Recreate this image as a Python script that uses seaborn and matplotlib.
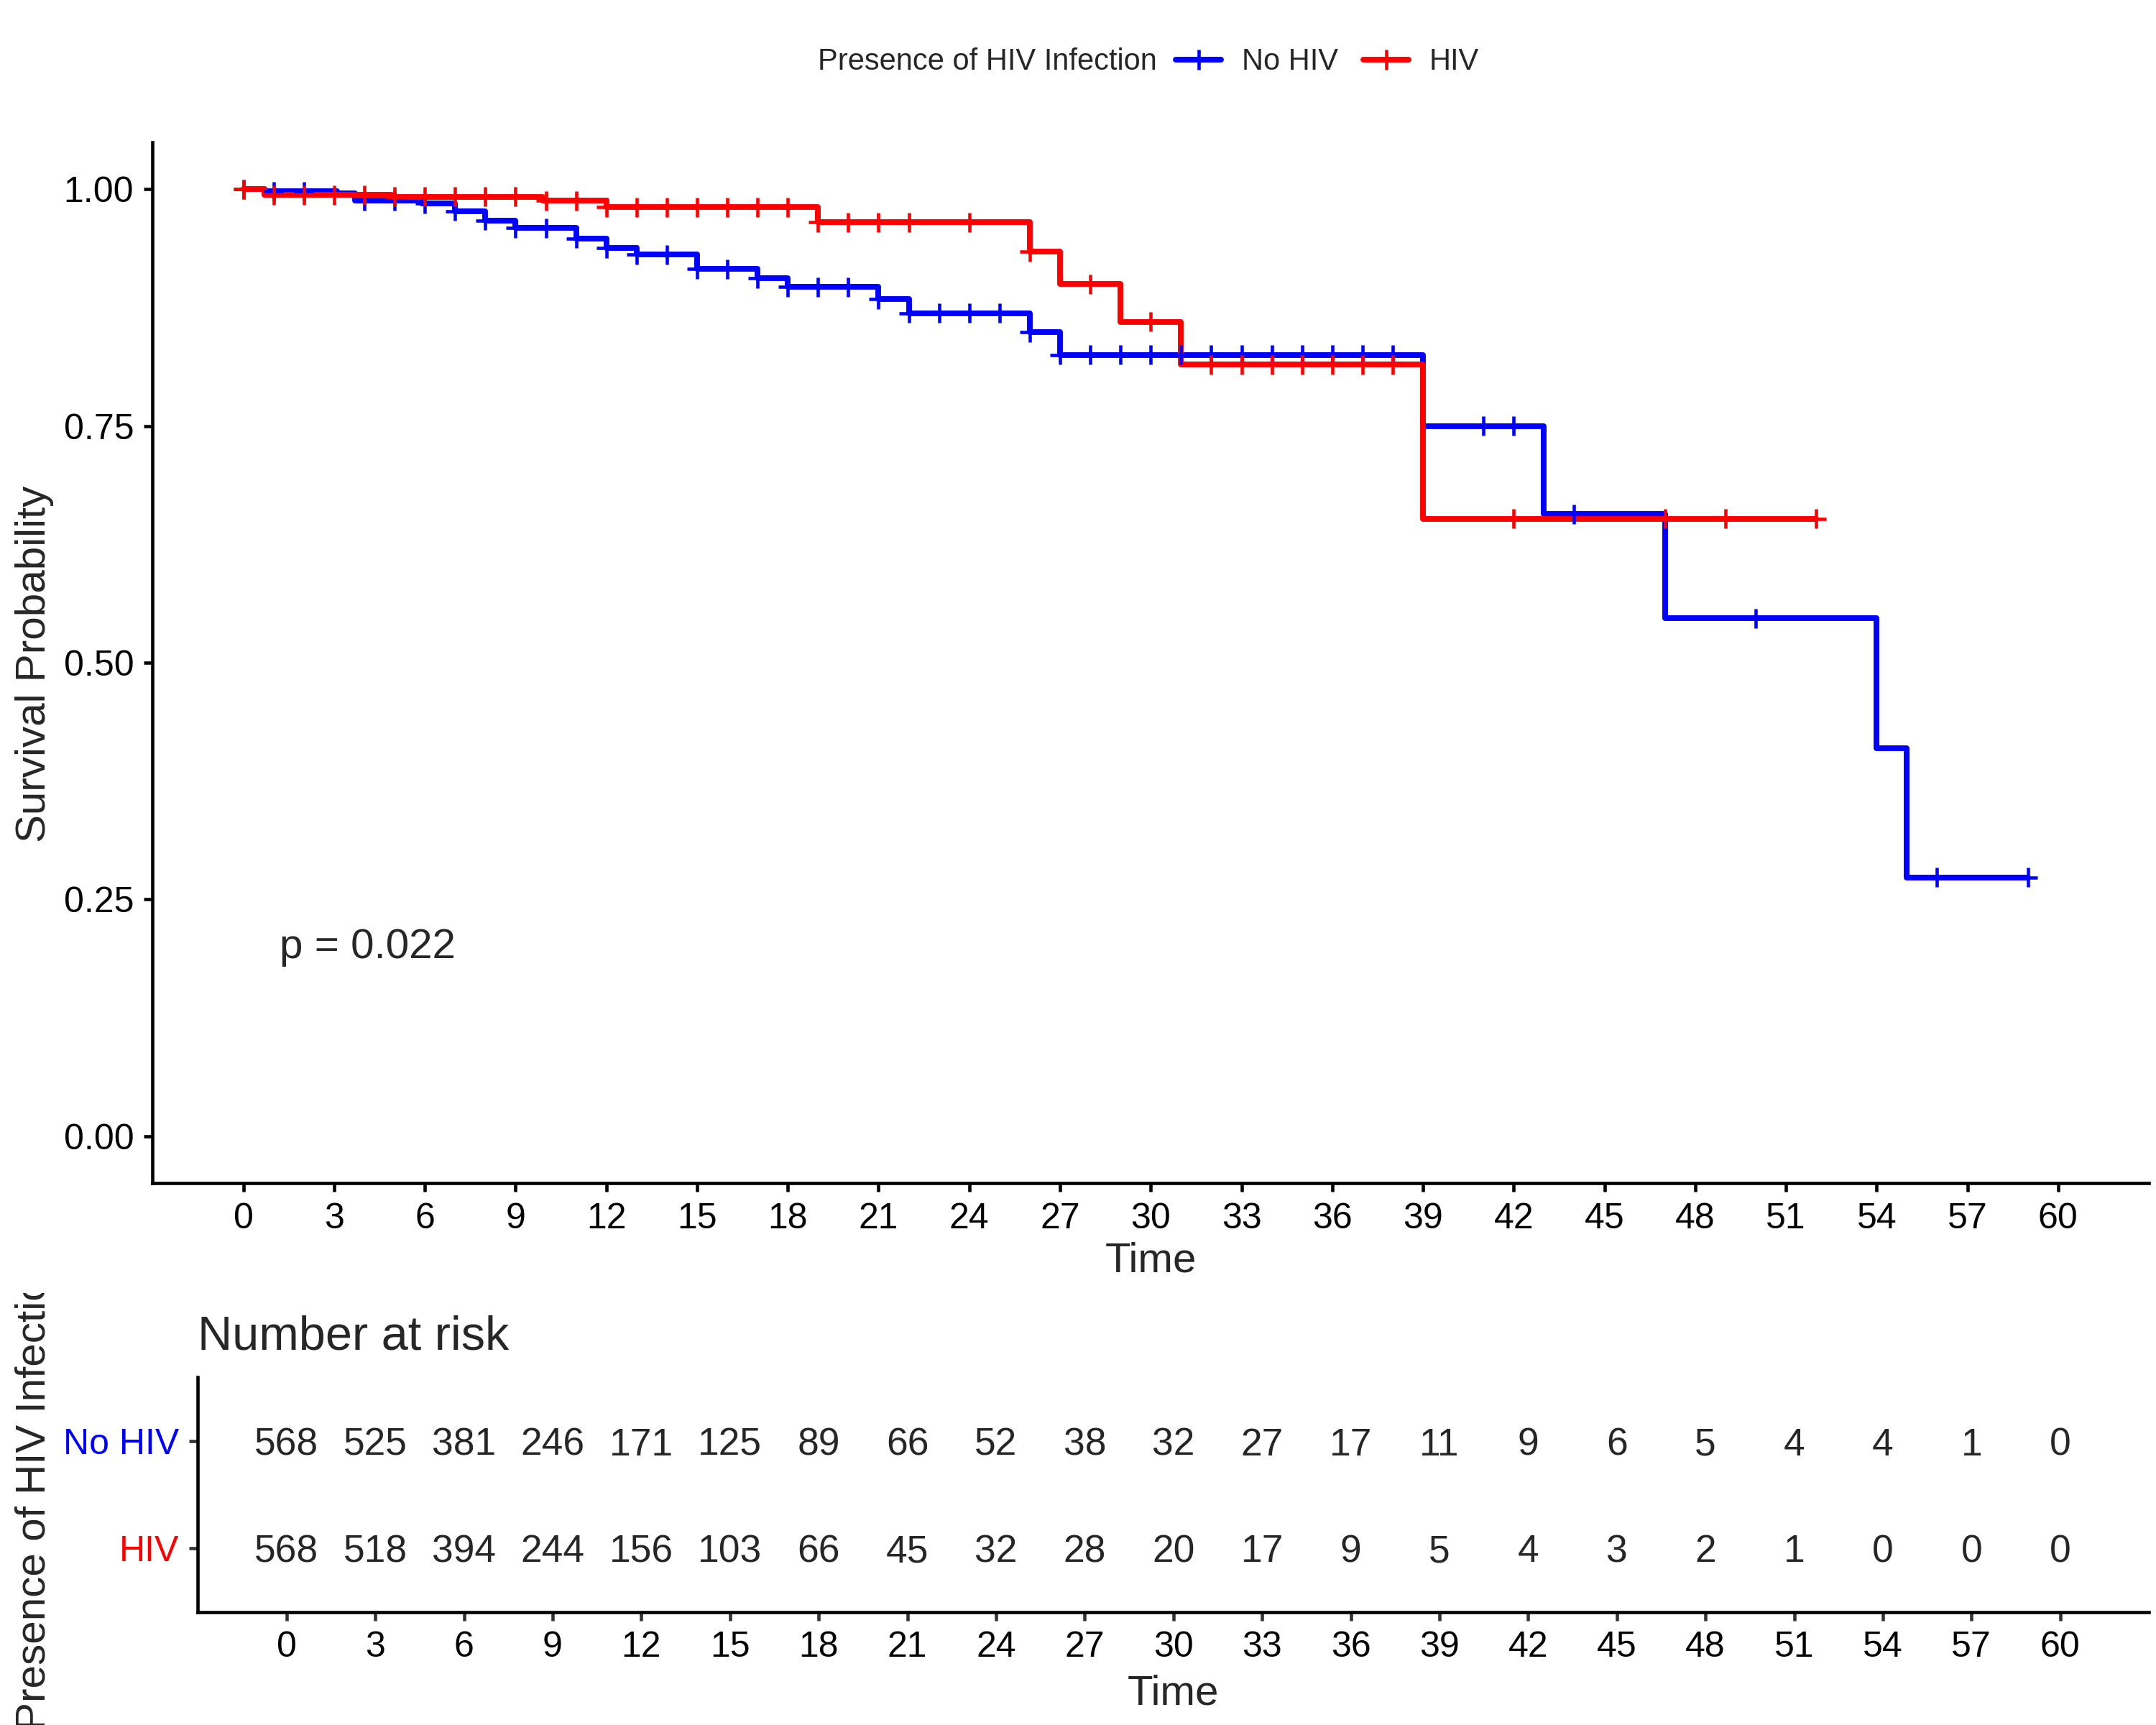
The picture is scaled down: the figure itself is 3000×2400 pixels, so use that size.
import numpy as np
import pandas as pd
import seaborn as sns
import matplotlib.pyplot as plt
from matplotlib.lines import Line2D
from matplotlib.transforms import Bbox, TransformedBbox

# === Data ===
groups = ["No HIV", "HIV"]
colors = {"No HIV": "#0000FF", "HIV": "#FF0000"}

# Kaplan-Meier steps: event times and survival after each step
nohiv_times = [0, 0.7, 3.1, 3.7, 5.9, 7, 8, 9, 11, 12, 13, 15, 17, 18, 21, 22, 26, 27, 39, 43, 47, 54, 55, 59]
nohiv_surv = [1.000, 0.998, 0.996, 0.988, 0.985, 0.977, 0.967, 0.959, 0.948, 0.938, 0.931, 0.916, 0.906,
              0.897, 0.884, 0.869, 0.849, 0.825, 0.750, 0.657, 0.547, 0.410, 0.273, 0.273]
hiv_times = [0, 0.7, 4.9, 9.9, 12, 19, 26, 27, 29, 31, 39, 52]
hiv_surv = [1.000, 0.994, 0.992, 0.988, 0.981, 0.965, 0.934, 0.900, 0.860, 0.815, 0.652, 0.652]

# censoring times
nohiv_cens = [0, 1, 2] + list(range(4, 39)) + [41, 42, 44, 50, 56, 59]
hiv_cens = list(range(0, 23)) + [24, 26, 28, 30] + list(range(32, 39)) + [42, 47, 49, 52]

# number at risk table
risk_times = list(range(0, 61, 3))
risk_nohiv = [568, 525, 381, 246, 171, 125, 89, 66, 52, 38, 32, 27, 17, 11, 9, 6, 5, 4, 4, 1, 0]
risk_hiv = [568, 518, 394, 244, 156, 103, 66, 45, 32, 28, 20, 17, 9, 5, 4, 3, 2, 1, 0, 0, 0]

p_label = "p = 0.022"

# === Build frames ===
steps = pd.concat([
    pd.DataFrame({"time": nohiv_times, "surv": nohiv_surv, "group": "No HIV"}),
    pd.DataFrame({"time": hiv_times, "surv": hiv_surv, "group": "HIV"}),
], ignore_index=True)


def surv_at(times, surv, t):
    idx = np.searchsorted(times, t, side="right") - 1
    return surv[idx]


cens = pd.concat([
    pd.DataFrame({"time": nohiv_cens,
                  "surv": [surv_at(nohiv_times, nohiv_surv, c) for c in nohiv_cens],
                  "group": "No HIV"}),
    pd.DataFrame({"time": hiv_cens,
                  "surv": [surv_at(hiv_times, hiv_surv, c) for c in hiv_cens],
                  "group": "HIV"}),
], ignore_index=True)

# === Style ===
sns.set_theme(style="ticks")
plt.rcParams["font.family"] = ["Liberation Sans", "DejaVu Sans"]

fig = plt.figure(figsize=(10, 8), dpi=300)
ax = fig.add_axes([0.0708, 0.314, 0.9259, 0.6037])
axt = fig.add_axes([0.0918, 0.0654, 0.9049, 0.1363])

# === Survival curves ===
sns.lineplot(data=steps, x="time", y="surv", hue="group", hue_order=groups, palette=colors,
             drawstyle="steps-post", linewidth=1.9, errorbar=None, legend=False, ax=ax)
sns.scatterplot(data=cens, x="time", y="surv", hue="group", hue_order=groups, palette=colors,
                marker="+", s=42, linewidth=1.1, legend=False, ax=ax, zorder=3)

ax.set_xlim(-3, 63)
ax.set_ylim(-0.05, 1.05)
ax.set_xticks(range(0, 61, 3))
ax.set_yticks([0, 0.25, 0.5, 0.75, 1.0])
ax.set_yticklabels(["0.00", "0.25", "0.50", "0.75", "1.00"])
ax.set_xlabel("Time", fontsize=14)
ax.xaxis.set_label_coords(0.5, -0.056)
ax.set_ylabel("")
sns.despine(ax=ax)
for s in ["left", "bottom"]:
    ax.spines[s].set_linewidth(1.1)
    ax.spines[s].set_color("black")
ax.tick_params(axis="both", labelsize=12, length=2.8, width=1.1, color="black", labelcolor="black")
ax.text(1.2, 0.188, p_label, fontsize=14, ha="left", va="baseline")

fig.text(0.016, 0.615, "Survival Probability", rotation=90, ha="center", va="center", fontsize=14)

# === Legend ===
fig.text(0.3795, 0.964, "Presence of HIV Infection", ha="left", va="center", fontsize=10)
handles = [Line2D([], [], color=colors[g], lw=1.9, marker="+", ms=6.5, mew=1.1) for g in groups]
fig.legend(handles, groups, loc="center left", bbox_to_anchor=(0.5385, 0.964), ncol=2,
           frameon=False, fontsize=10, handlelength=1.5, handletextpad=0.7,
           columnspacing=0.85, borderpad=0, numpoints=1)

# === Risk table ===
rows = {"No HIV": 2, "HIV": 1}
for g, vals in [("No HIV", risk_nohiv), ("HIV", risk_hiv)]:
    for t, n in zip(risk_times, vals):
        axt.text(t, rows[g], str(n), ha="center", va="center_baseline", fontsize=12.8)

axt.set_xlim(-3, 63)
axt.set_ylim(0.4, 2.6)
axt.set_xticks(risk_times)
axt.set_yticks([2, 1])
axt.set_yticklabels(["No HIV", "HIV"])
for lab, g in zip(axt.get_yticklabels(), ["No HIV", "HIV"]):
    lab.set_color(colors[g])
axt.set_xlabel("Time", fontsize=14)
axt.xaxis.set_label_coords(0.5, -0.265)
sns.despine(ax=axt)
for s in ["left", "bottom"]:
    axt.spines[s].set_linewidth(1.1)
    axt.spines[s].set_color("black")
axt.tick_params(axis="both", labelsize=12, length=2.8, width=1.1, color="#333333")
axt.tick_params(axis="x", labelcolor="black")
fig.text(0.0918, 0.225, "Number at risk", ha="left", va="center", fontsize=16)

# y label of the table is clipped at the top, as in the reference
ylab = fig.text(0.0158, -0.003, "Presence of HIV Infection", rotation=90, ha="center", va="bottom",
                fontsize=14)
ylab.set_clip_on(True)
ylab.set_clip_box(TransformedBbox(Bbox([[0, -0.05], [0.1, 0.2504]]), fig.transFigure))

fig.savefig("out.png", dpi=300)
print("Saved out.png")
